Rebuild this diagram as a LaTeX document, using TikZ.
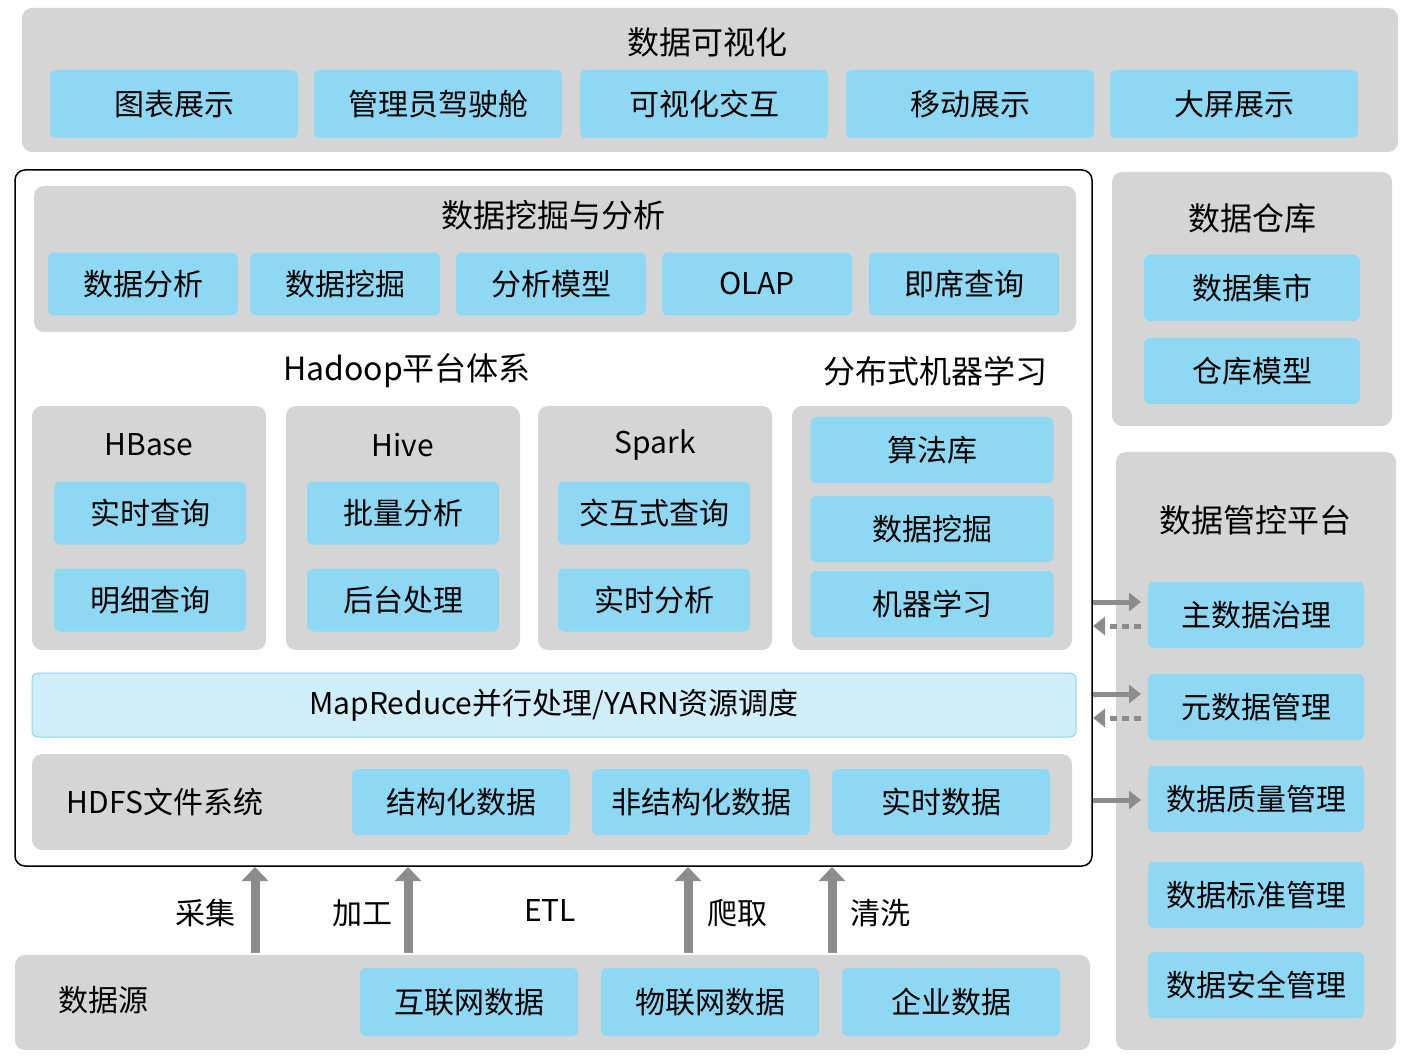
\documentclass[tikz,border=0pt]{standalone}
\usepackage{fontspec}
\setmainfont{Noto Sans CJK SC}
\usetikzlibrary{arrows.meta}
\definecolor{gbg}{RGB}{213,213,213}
\definecolor{bbx}{RGB}{143,216,243}
\definecolor{lbx}{RGB}{208,238,250}
\definecolor{arr}{RGB}{140,140,140}
\tikzset{
 panel/.style={fill=gbg,rounded corners=10pt,draw=none},
 bb/.style={fill=bbx,rounded corners=6pt,draw=none,font=\fontsize{30}{32}\selectfont},
 tt/.style={font=\fontsize{32}{34}\selectfont},
 hd/.style={font=\fontsize{30}{32}\selectfont},
 lab/.style={font=\fontsize{30}{32}\selectfont},
 up/.style={draw=arr,line width=9pt,-{Triangle[width=26pt,length=14pt]}},
 rt/.style={draw=arr,line width=5pt,-{Triangle[width=18pt,length=12pt]}},
 rtd/.style={draw=arr,line width=5pt,dash pattern=on 7pt off 5pt,-{Triangle[width=18pt,length=12pt]}},
}
\newcommand{\bx}[5]{\node[bb,minimum width=#3-#1,minimum height=#4-#2,anchor=north west] (#5) at (#1,#2) {};}
\begin{document}
\begin{tikzpicture}[x=1pt,y=-1pt]
\useasboundingbox (0,0) rectangle (1406,1064);
% top
\fill[gbg,rounded corners=10pt] (22,8) rectangle (1398,152);
\node[tt] (vis) at (707,42) {数据可视化};
\node[bb,minimum width=248,minimum height=68] (v1) at (174,104) {图表展示};
\node[bb,minimum width=248,minimum height=68] (v2) at (438,104) {管理员驾驶舱};
\node[bb,minimum width=248,minimum height=68] (v3) at (704,104) {可视化交互};
\node[bb,minimum width=248,minimum height=68] (v4) at (970,104) {移动展示};
\node[bb,minimum width=248,minimum height=68] (v5) at (1234,104) {大屏展示};
% main box
\draw[line width=1.5pt,rounded corners=10pt,fill=white] (15,170) rectangle (1092,866);
\fill[gbg,rounded corners=10pt] (34,186) rectangle (1076,332);
\node[tt] (dm) at (553,215) {数据挖掘与分析};
\node[bb,minimum width=190,minimum height=63] (a1) at (143,284) {数据分析};
\node[bb,minimum width=190,minimum height=63] (a2) at (345,284) {数据挖掘};
\node[bb,minimum width=190,minimum height=63] (a3) at (551,284) {分析模型};
\node[bb,minimum width=190,minimum height=63] (a4) at (757,284) {OLAP};
\node[bb,minimum width=190,minimum height=63] (a5) at (964,284) {即席查询};
\node[tt] (hp) at (407,371) {Hadoop平台体系};
\node[tt] (ml) at (935,371) {分布式机器学习};
% columns
\fill[gbg,rounded corners=10pt] (32,406) rectangle (266,650);
\fill[gbg,rounded corners=10pt] (286,406) rectangle (520,650);
\fill[gbg,rounded corners=10pt] (538,406) rectangle (772,650);
\fill[gbg,rounded corners=10pt] (792,406) rectangle (1072,650);
\node[hd] (hb) at (149,445) {HBase};
\node[hd] (hv) at (403,445) {Hive};
\node[hd] (sp) at (655,445) {Spark};
\node[bb,minimum width=192,minimum height=63] (h1) at (150,513) {实时查询};
\node[bb,minimum width=192,minimum height=63] (h2) at (150,600) {明细查询};
\node[bb,minimum width=192,minimum height=63] (i1) at (403,513) {批量分析};
\node[bb,minimum width=192,minimum height=63] (i2) at (403,600) {后台处理};
\node[bb,minimum width=192,minimum height=63] (s1) at (654,513) {交互式查询};
\node[bb,minimum width=192,minimum height=63] (s2) at (654,600) {实时分析};
\node[bb,minimum width=243,minimum height=66] (m1) at (932,450) {算法库};
\node[bb,minimum width=243,minimum height=66] (m2) at (932,529) {数据挖掘};
\node[bb,minimum width=243,minimum height=66] (m3) at (932,604) {机器学习};
% mapreduce
\node[fill=lbx,draw=bbx,line width=1pt,rounded corners=6pt,minimum width=1044,minimum height=64,font=\fontsize{30}{32}\selectfont] (mr) at (554,705) {MapReduce并行处理/YARN资源调度};
% hdfs
\fill[gbg,rounded corners=10pt] (32,754) rectangle (1072,850);
\node[hd] (hdfs) at (165,802) {HDFS文件系统};
\node[bb,minimum width=218,minimum height=66] (d1) at (461,802) {结构化数据};
\node[bb,minimum width=218,minimum height=66] (d2) at (701,802) {非结构化数据};
\node[bb,minimum width=218,minimum height=66] (d3) at (941,802) {实时数据};
% source
\fill[gbg,rounded corners=10pt] (15,955) rectangle (1090,1050);
\node[hd] (src) at (103,1000) {数据源};
\node[bb,minimum width=218,minimum height=68] (r1) at (469,1002) {互联网数据};
\node[bb,minimum width=218,minimum height=68] (r2) at (710,1002) {物联网数据};
\node[bb,minimum width=218,minimum height=68] (r3) at (951,1002) {企业数据};
\coordinate (b1) at (255,953); \coordinate (t1) at (255,867);
\coordinate (b2) at (408,953); \coordinate (t2) at (408,867);
\coordinate (b3) at (688,953); \coordinate (t3) at (688,867);
\coordinate (b4) at (832,953); \coordinate (t4) at (832,867);
\draw[up] (b1) -- (t1); \draw[up] (b2) -- (t2); \draw[up] (b3) -- (t3); \draw[up] (b4) -- (t4);
\node[lab] (l1) at (205,913) {采集};
\node[lab] (l2) at (362,913) {加工};
\node[hd] (l3) at (550,911) {ETL};
\node[lab] (l4) at (737,913) {爬取};
\node[lab] (l5) at (880,913) {清洗};
% warehouse
\fill[gbg,rounded corners=10pt] (1112,172) rectangle (1392,426);
\node[tt] (wh) at (1252,218) {数据仓库};
\node[bb,minimum width=216,minimum height=66] (w1) at (1252,288) {数据集市};
\node[bb,minimum width=216,minimum height=66] (w2) at (1252,371) {仓库模型};
% governance
\fill[gbg,rounded corners=10pt] (1116,452) rectangle (1396,1050);
\node[tt] (gv) at (1255,520) {数据管控平台};
\node[bb,minimum width=216,minimum height=66] (g1) at (1256,615) {主数据治理};
\node[bb,minimum width=216,minimum height=66] (g2) at (1256,707) {元数据管理};
\node[bb,minimum width=216,minimum height=66] (g3) at (1256,799) {数据质量管理};
\node[bb,minimum width=216,minimum height=66] (g4) at (1256,895) {数据标准管理};
\node[bb,minimum width=216,minimum height=66] (g5) at (1256,985) {数据安全管理};
\draw[rt] (1093,602) -- (1141,602);
\draw[rtd] (1141,626) -- (1093,626);
\draw[rt] (1093,694) -- (1141,694);
\draw[rtd] (1141,718) -- (1093,718);
\draw[rt] (1093,800) -- (1141,800);
\end{tikzpicture}
\end{document}
